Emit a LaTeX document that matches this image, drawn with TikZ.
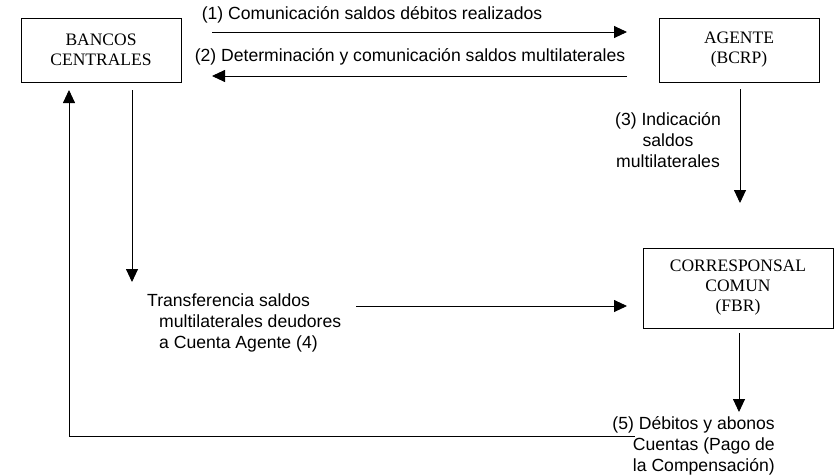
\documentclass[tikz,border=0pt]{standalone}
\usepackage{fontspec}
\setmainfont{Liberation Serif}
\newfontfamily\arialf{Liberation Sans}
\usetikzlibrary{arrows.meta}
\begin{document}
\begin{tikzpicture}[x=1pt,y=-1pt,
  box/.style={draw, line width=0.9pt, inner sep=0pt, align=center, font=\fontsize{17.5}{20}\selectfont},
  lbl/.style={font=\arialf\fontsize{17.6}{21}\selectfont, inner sep=0pt},
  arr/.style={line width=0.9pt, -{Triangle[length=13pt,width=12pt]}},
  ln/.style={line width=0.9pt}]
\useasboundingbox (0,0) rectangle (838,474);
% boxes
\node[box, minimum width=160pt, minimum height=64pt] (bc) at (101,50) {BANCOS\\CENTRALES};
\node[box, minimum width=160pt, minimum height=64pt] (ag) at (739,50) {AGENTE\\(BCRP)};
\node[box, minimum width=190pt, minimum height=80pt] (cc) at (738,288) {CORRESPONSAL\\COMUN\\(FBR)};
% connector end points
\coordinate (a1s) at (212,32);
\coordinate (a1e) at (627,32);
\coordinate (a2s) at (627,76);
\coordinate (a2e) at (212,76);
\coordinate (a3s) at (740,89);
\coordinate (a3e) at (740,203);
\coordinate (bds) at (132,90);
\coordinate (bde) at (132,282);
\coordinate (a4s) at (356,306);
\coordinate (a4e) at (627,306);
\coordinate (a5s) at (739,333);
\coordinate (a5e) at (739,412);
\coordinate (r1) at (635,436);
\coordinate (r2) at (69,436);
\coordinate (r3) at (69,90);
% connectors
\draw[arr] (a1s) -- (a1e);
\draw[arr] (a2s) -- (a2e);
\draw[arr] (a3s) -- (a3e);
\draw[arr] (bds) -- (bde);
\draw[arr] (a4s) -- (a4e);
\draw[arr] (a5s) -- (a5e);
\draw[arr] (r1) -- (r2) -- (r3);
% labels
\node[lbl] (t1) at (372,15) {(1) Comunicación saldos débitos realizados};
\node[lbl] (t2) at (410,57) {(2) Determinación y comunicación saldos multilaterales};
\node[lbl, align=center] (t3) at (668,140) {(3) Indicación\\saldos\\multilaterales};
\node[lbl, align=left, anchor=west] (t4) at (147,323) {Transferencia saldos\\\hspace*{12pt}multilaterales deudores\\\hspace*{12pt}a Cuenta Agente (4)};
\node[lbl, align=right, anchor=east] (t5) at (775,446) {(5) Débitos y abonos\\Cuentas (Pago de\\la Compensación)};
\end{tikzpicture}
\end{document}
